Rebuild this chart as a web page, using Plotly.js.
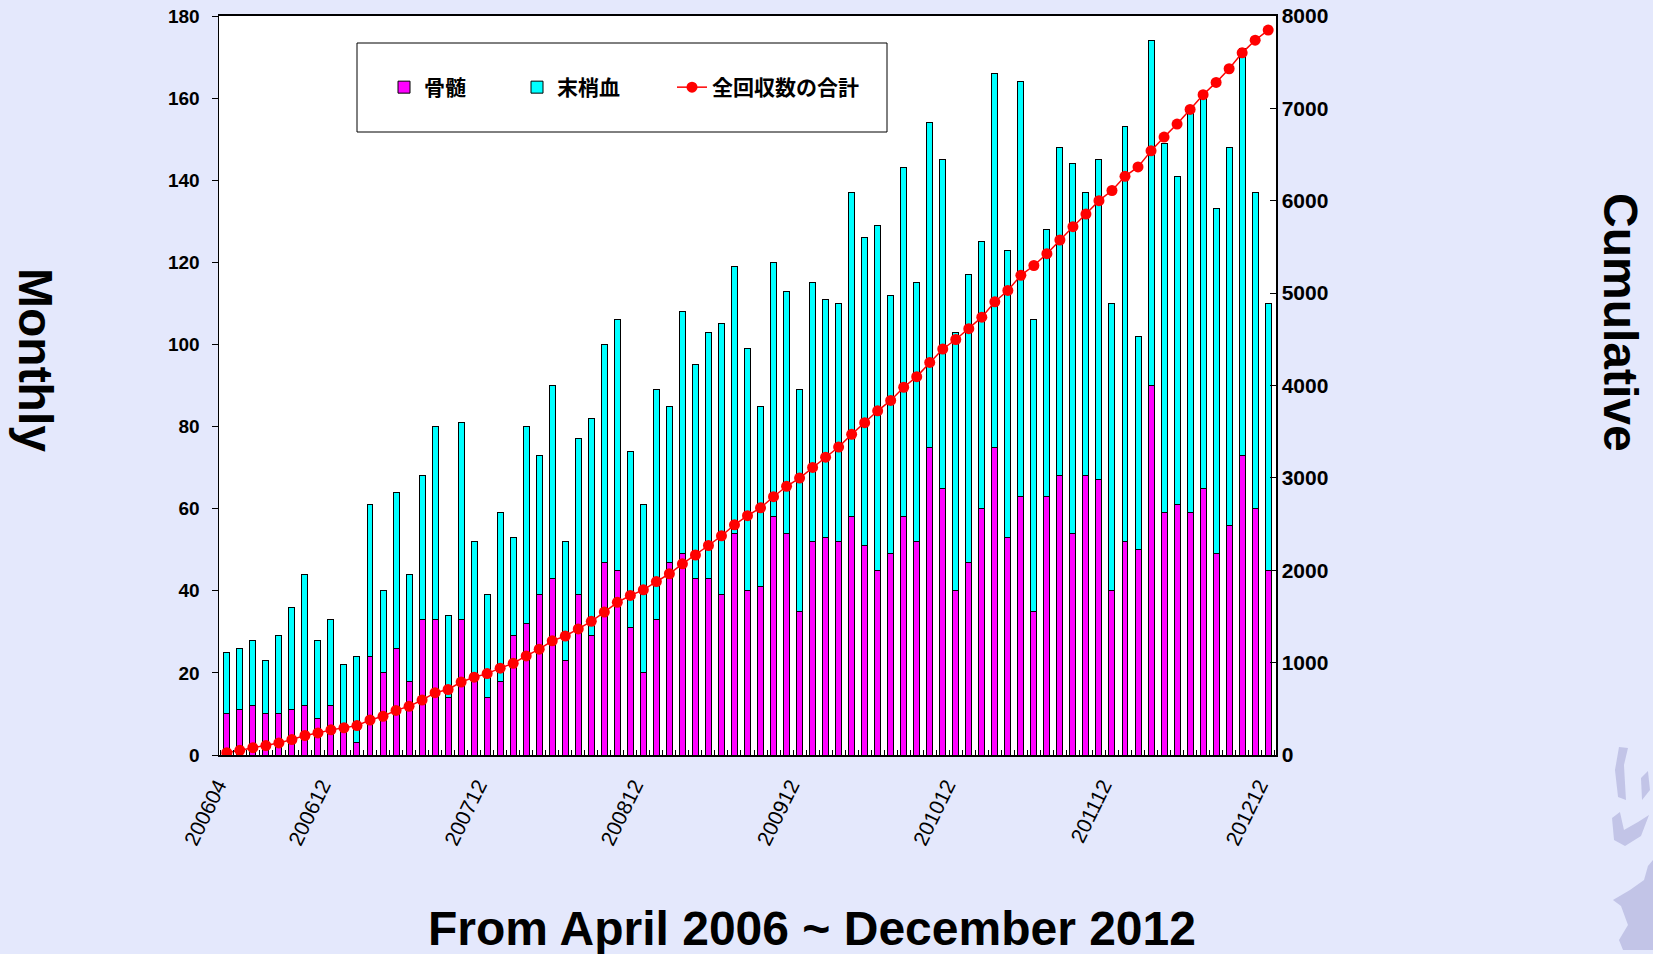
<!DOCTYPE html>
<html>
<head>
<meta charset="utf-8">
<script src="https://cdn.plot.ly/plotly-3.0.1.min.js"></script>
<style>
  html, body { margin: 0; padding: 0; background: #E4E8FC; }
  #chart { width: 1653px; height: 954px; }
</style>
</head>
<body>
<div id="chart"></div>
<script>
// ---- Data ----
const months = [
  '200604','200605','200606','200607','200608','200609','200610','200611','200612',
  '200701','200702','200703','200704','200705','200706','200707','200708','200709','200710','200711','200712',
  '200801','200802','200803','200804','200805','200806','200807','200808','200809','200810','200811','200812',
  '200901','200902','200903','200904','200905','200906','200907','200908','200909','200910','200911','200912',
  '201001','201002','201003','201004','201005','201006','201007','201008','201009','201010','201011','201012',
  '201101','201102','201103','201104','201105','201106','201107','201108','201109','201110','201111','201112',
  '201201','201202','201203','201204','201205','201206','201207','201208','201209','201210','201211','201212'
];

// 骨髄 (bone marrow), monthly
const boneMarrow = [
  10,11,12,10,10,11,12,9,12,7,
  3,24,20,26,18,33,33,14,33,19,
  14,18,29,32,39,43,23,39,29,47,
  45,31,20,33,47,49,43,43,39,54,
  40,41,58,54,35,52,53,52,58,51,
  45,49,58,52,75,65,40,47,60,75,
  53,63,35,63,68,54,68,67,40,52,
  50,90,59,61,59,65,49,56,73,60,
  45
];

// 末梢血 (peripheral blood), monthly
const peripheralBlood = [
  15,15,16,13,19,25,32,19,21,15,
  21,37,20,38,26,35,47,20,48,33,
  25,41,24,48,34,47,29,38,53,53,
  61,43,41,56,38,59,52,60,66,65,
  59,44,62,59,54,63,58,58,79,75,
  84,63,85,63,79,80,63,70,65,91,
  70,101,71,65,80,90,69,78,70,101,
  52,84,90,80,99,95,84,92,99,77,
  65
];

// 全回収数の合計 (cumulative total)
const cumulativeTotal = [
  25,51,79,102,131,167,211,239,272,294,
  318,379,419,483,527,595,675,709,790,842,
  881,940,993,1073,1146,1236,1288,1365,1447,1547,
  1653,1727,1788,1877,1962,2070,2165,2268,2373,2492,
  2591,2676,2796,2909,2998,3113,3224,3334,3471,3597,
  3726,3838,3981,4096,4250,4395,4498,4615,4740,4906,
  5029,5193,5299,5427,5575,5719,5856,6001,6111,6264,
  6366,6540,6689,6830,6988,7148,7281,7429,7601,7738,
  7848
];

const labeledMonths = ['200604','200612','200712','200812','200912','201012','201112','201212'];

const seriesNames = ['骨髄', '末梢血', '全回収数の合計'];

// ---- Geometry helpers (pixel -> paper) ----
const W = 1653, H = 954;
const M = { l: 219, r: 377, t: 16, b: 199 };
const PW = W - M.l - M.r, PH = H - M.t - M.b;
const px = x => (x - M.l) / PW;
const py = y => 1 - (y - M.t) / PH;
const path = pts => 'M' + pts.map(p => px(p[0]).toFixed(4) + ',' + py(p[1]).toFixed(4)).join(' L') + ' Z';

const tickText = months.map(m => labeledMonths.includes(m) ? m : '');

const traces = [
  {
    type: 'bar', name: seriesNames[0], x: months, y: boneMarrow, legend: 'legend',
    marker: { color: '#FF00FF', line: { color: '#000000', width: 1 } }
  },
  {
    type: 'bar', name: seriesNames[1], x: months, y: peripheralBlood, legend: 'legend2',
    marker: { color: '#00FFFF', line: { color: '#000000', width: 1 } }
  },
  {
    type: 'scatter', mode: 'lines+markers', name: seriesNames[2], x: months, y: cumulativeTotal,
    yaxis: 'y2', legend: 'legend3',
    line: { color: '#FF0000', width: 1.5 },
    marker: { color: '#FF0000', size: 11 }
  }
];

const legendFont = { family: 'Noto Sans CJK JP', size: 21, color: '#000000', weight: 'bold' };
const mkLegend = xLeft => ({
  orientation: 'h',
  x: px(xLeft), xanchor: 'left',
  y: py(87.5), yanchor: 'middle',
  bgcolor: 'rgba(0,0,0,0)',
  borderwidth: 0,
  font: legendFont
});

const strokeColor = 'rgba(190,192,228,0.9)';
const tickFontLeft = { family: 'Liberation Sans', size: 19, color: '#000000', weight: 'bold' };
const tickFontRight = { family: 'Liberation Sans', size: 21, color: '#000000', weight: 'bold' };

const layout = {
  width: W, height: H,
  margin: M,
  paper_bgcolor: '#E4E8FC',
  plot_bgcolor: '#FFFFFF',
  barmode: 'stack',
  bargap: 0.54,
  showlegend: true,
  legend: mkLegend(384),
  legend2: mkLegend(517),
  legend3: mkLegend(672),
  xaxis: {
    type: 'category',
    range: [-0.6, months.length - 0.4],
    tickmode: 'array',
    tickvals: months,
    ticktext: tickText,
    tickson: 'boundaries',
    ticks: 'inside', ticklen: 5, tickcolor: '#000000', tickwidth: 1,
    tickangle: -64,
    ticklabelstandoff: 8,
    ticklabelshift: -9,
    tickfont: { family: 'Liberation Sans', size: 21, color: '#000000' },
    showline: true, linecolor: '#000000', linewidth: 2, mirror: true,
    showgrid: false, zeroline: false
  },
  yaxis: {
    range: [0, 180], dtick: 20, tick0: 0,
    ticks: 'outside', ticklen: 6, tickcolor: '#000000',
    ticklabelstandoff: 8,
    tickfont: tickFontLeft,
    showline: true, linecolor: '#000000', linewidth: 1.5,
    showgrid: false, zeroline: false
  },
  yaxis2: {
    overlaying: 'y', side: 'right',
    range: [0, 8000], dtick: 1000, tick0: 0,
    ticks: 'inside', ticklen: 6, tickcolor: '#000000',
    tickfont: tickFontRight,
    showline: true, linecolor: '#000000', linewidth: 1.5,
    showgrid: false, zeroline: false
  },
  shapes: [
    { type: 'rect', xref: 'paper', yref: 'paper', x0: px(357), x1: px(887), y0: py(132), y1: py(43),
      line: { color: '#000000', width: 1 }, fillcolor: '#FFFFFF', layer: 'above' },
    { type: 'path', xref: 'paper', yref: 'paper', layer: 'below', line: { width: 0 }, fillcolor: strokeColor,
      path: path([[1619,747],[1628,748],[1624,765],[1626,800],[1618,797],[1615,770]]) },
    { type: 'path', xref: 'paper', yref: 'paper', layer: 'below', line: { width: 0 }, fillcolor: strokeColor,
      path: path([[1641,778],[1648,771],[1650,790],[1642,800]]) },
    { type: 'path', xref: 'paper', yref: 'paper', layer: 'below', line: { width: 0 }, fillcolor: strokeColor,
      path: path([[1612,818],[1620,812],[1624,830],[1638,822],[1649,815],[1641,836],[1625,846],[1614,840]]) },
    { type: 'path', xref: 'paper', yref: 'paper', layer: 'below', line: { width: 0 }, fillcolor: strokeColor,
      path: path([[1653,860],[1653,950],[1623,950],[1619,940],[1628,925],[1621,906],[1613,900],[1630,890],[1644,880],[1648,866]]) }
  ],
  annotations: [
    { text: 'Monthly', xref: 'paper', yref: 'paper', x: px(36), y: py(360),
      xanchor: 'center', yanchor: 'middle', textangle: 90, showarrow: false,
      font: { family: 'Liberation Sans', size: 48, color: '#000000', weight: 'bold' } },
    { text: 'Cumulative', xref: 'paper', yref: 'paper', x: px(1621), y: py(322),
      xanchor: 'center', yanchor: 'middle', textangle: 90, showarrow: false,
      font: { family: 'Liberation Sans', size: 48, color: '#000000', weight: 'bold' } },
    { text: 'From April 2006 ~ December 2012', xref: 'paper', yref: 'paper', x: px(812), y: py(928),
      xanchor: 'center', yanchor: 'middle', showarrow: false,
      font: { family: 'Liberation Sans', size: 48, color: '#000000', weight: 'bold' } }
  ]
};

Plotly.newPlot('chart', traces, layout, { displayModeBar: false, staticPlot: true });
</script>
</body>
</html>
